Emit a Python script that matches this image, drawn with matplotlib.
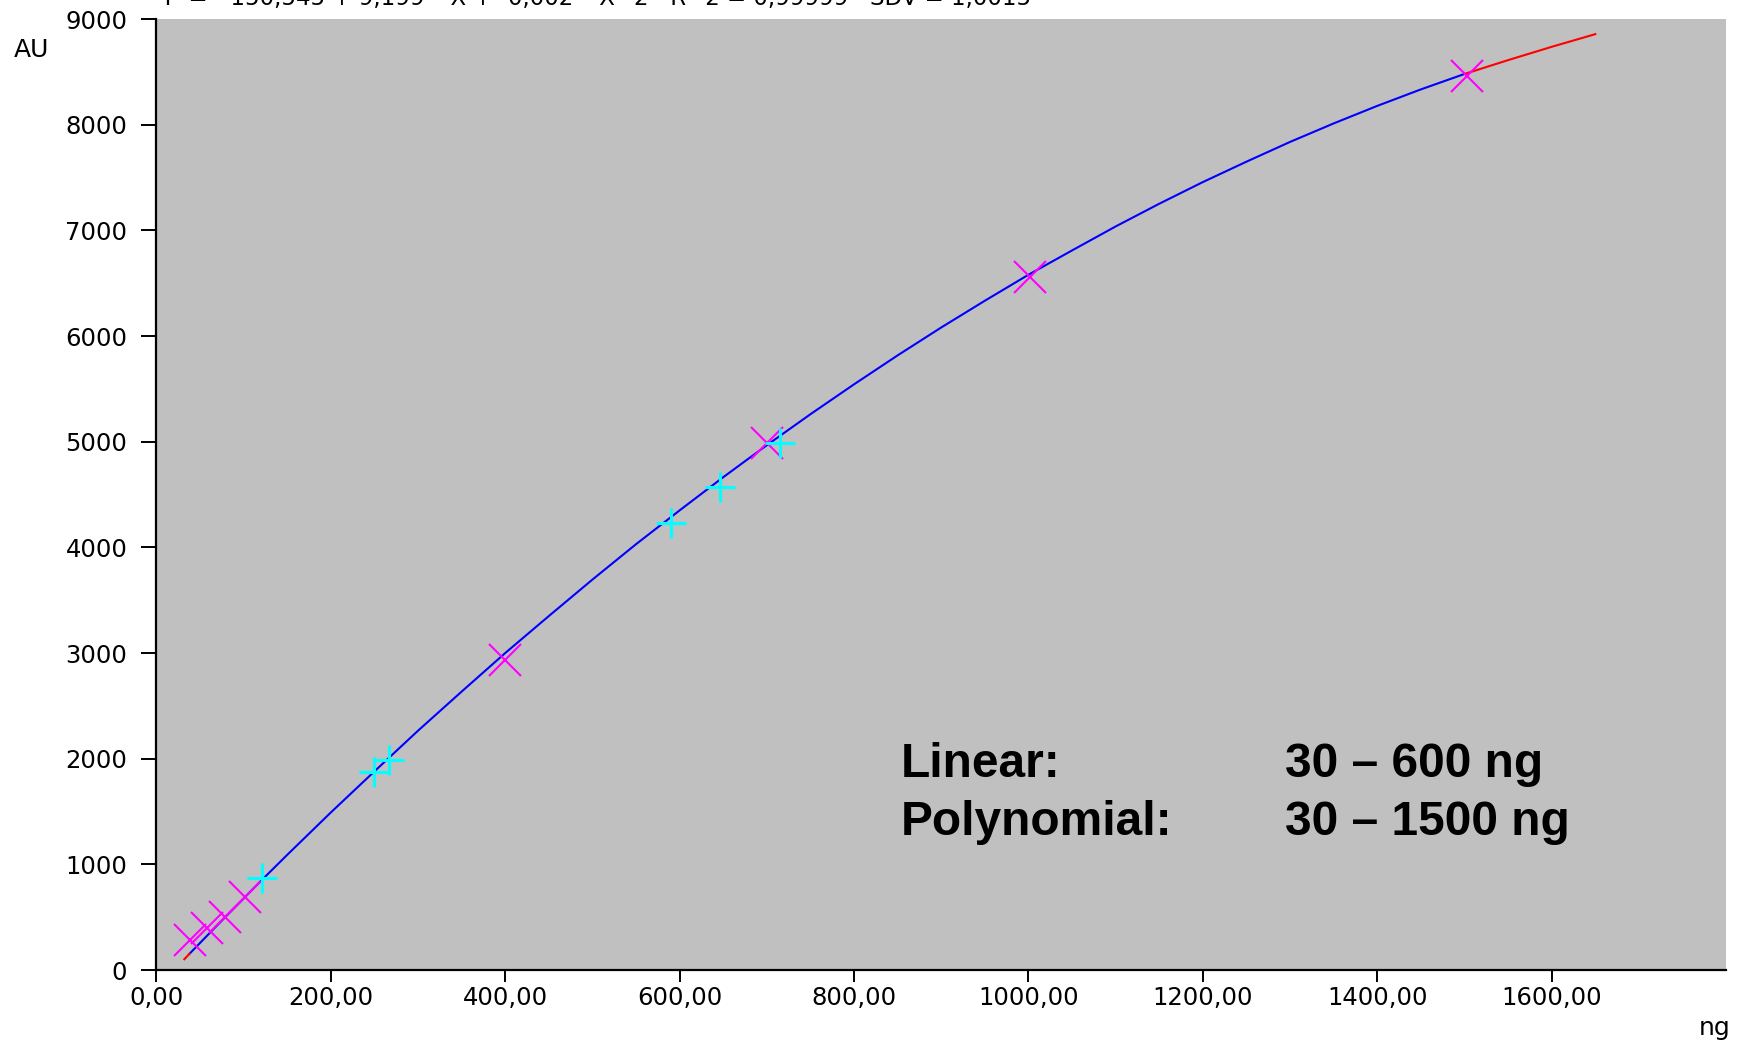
import matplotlib
matplotlib.use("Agg")
import matplotlib.pyplot as plt

# Calibration curve (ng -> AU)
curve_x_blue = [38, 60, 80, 100, 120, 150, 200, 250, 300, 350, 400, 450, 500, 550, 600,
                650, 700, 750, 800, 850, 900, 950, 1000, 1050, 1100, 1150, 1200, 1250,
                1300, 1350, 1400, 1450, 1500]
curve_y_blue = [154, 341, 510, 677, 845, 1090, 1491, 1880, 2265, 2635, 3000, 3350, 3695,
                4030, 4350, 4664, 4967, 5260, 5543, 5817, 6081, 6334, 6580, 6810, 7037,
                7252, 7457, 7650, 7837, 8012, 8178, 8334, 8480]
curve_x_red = [1500, 1550, 1600, 1650]
curve_y_red = [8480, 8611, 8737, 8857]
curve_x_red_low = [32, 38]
curve_y_red_low = [102, 154]

# Standards
std_x_magenta = [38, 58, 79, 101, 400, 700, 1002, 1503]
std_y_magenta = [284, 397, 501, 691, 2931, 4984, 6554, 8464]
std_x_cyan = [121, 249, 267, 590, 646, 715]
std_y_cyan = [868, 1877, 1987, 4227, 4573, 4984]

x_ticks = [0, 200, 400, 600, 800, 1000, 1200, 1400, 1600]
x_tick_labels = ["0,00", "200,00", "400,00", "600,00", "800,00", "1000,00",
                 "1200,00", "1400,00", "1600,00"]
y_ticks = [0, 1000, 2000, 3000, 4000, 5000, 6000, 7000, 8000, 9000]

fig = plt.figure(figsize=(17.4, 10.4), dpi=100)
ax = fig.add_axes([0.0899, 0.0673, 0.992 - 0.0899, 0.9817 - 0.0673])
ax.set_facecolor("#C0C0C0")

ax.plot(curve_x_blue, curve_y_blue, color="#0000FF", lw=1.5, zorder=3)
ax.plot(curve_x_red, curve_y_red, color="#FF0000", lw=1.5, zorder=3)
ax.plot(curve_x_red_low, curve_y_red_low, color="#FF0000", lw=1.5, zorder=3)
ax.plot(std_x_magenta, std_y_magenta, ls="none", marker="x", ms=23, mew=1.5,
        color="#FF00FF", zorder=4)
ax.plot(std_x_cyan, std_y_cyan, ls="none", marker="+", ms=22, mew=2.2,
        color="#00FFFF", zorder=4)

ax.set_xlim(0, 1800)
ax.set_ylim(0, 9000)
ax.set_xticks(x_ticks)
ax.set_xticklabels(x_tick_labels)
ax.set_yticks(y_ticks)

for s in ["top", "right"]:
    ax.spines[s].set_visible(False)
for s in ["left", "bottom"]:
    ax.spines[s].set_linewidth(1.6)
    ax.spines[s].set_color("black")

ax.tick_params(axis="y", direction="out", length=11, width=1.4, pad=10,
               labelsize=17.5)
ax.tick_params(axis="x", direction="out", length=8.5, width=1.4, pad=3,
               labelsize=17.5)

fig.text(31 / 1740, 1 - 50 / 1040, "AU", fontsize=18, ha="center", va="center")
fig.text(1715 / 1740, 1 - 1028 / 1040, "ng", fontsize=18, ha="center", va="center")

fig.text(160 / 1740, 1 - 5 / 1040,
         "Y  =  -150,545 + 9,199 * X + -0,002 * X^2   R^2 = 0,99999   SDV = 1,0015",
         fontsize=16.5, ha="left", va="baseline")

fs = 34.5
tx = lambda px: px / 1740
ty = lambda py: 1 - py / 1040
fig.text(tx(901), ty(777), "Linear:", fontsize=fs, fontweight="bold",
         family="Liberation Sans", va="baseline")
fig.text(tx(901), ty(835), "Polynomial:", fontsize=fs, fontweight="bold",
         family="Liberation Sans", va="baseline")
fig.text(tx(1285), ty(777), "30 – 600 ng", fontsize=fs, fontweight="bold",
         family="Liberation Sans", va="baseline")
fig.text(tx(1285), ty(835), "30 – 1500 ng", fontsize=fs, fontweight="bold",
         family="Liberation Sans", va="baseline")

fig.savefig("out.png", dpi=100, facecolor="white")
